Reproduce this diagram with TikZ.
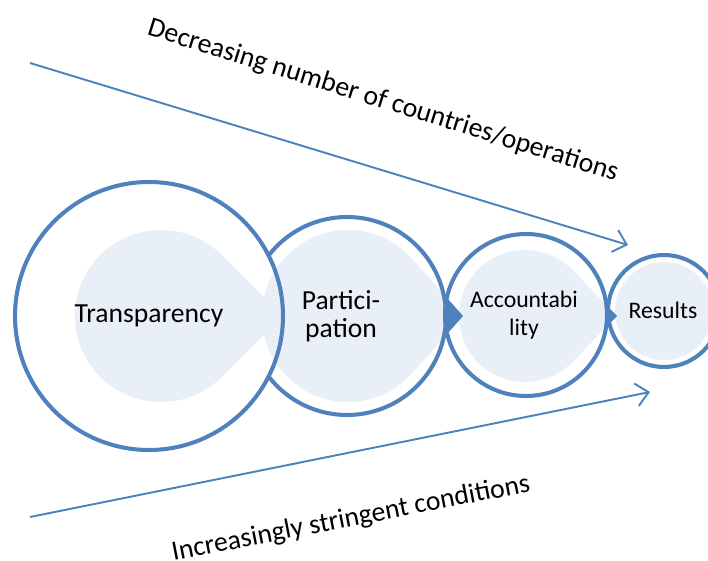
\documentclass[tikz,border=0pt]{standalone}
\usepackage{fontspec}
\setmainfont{Carlito}
\usetikzlibrary{arrows.meta}

\definecolor{ringblue}{HTML}{4F81BD}
\definecolor{discfill}{HTML}{E9EFF7}
\tikzstyle{ring} = [draw=ringblue, line width=2.3pt]
\tikzstyle{disc} = [fill=discfill]
\tikzstyle{stagetext} = [font=\fontsize{15.7}{16}\selectfont, align=center, inner sep=0pt]
\tikzstyle{smalltext} = [font=\fontsize{13.5}{16}\selectfont, align=center, inner sep=0pt]
\tikzstyle{trendtext} = [font=\fontsize{15.8}{17}\selectfont, inner sep=0pt]
\tikzstyle{trend} = [draw=ringblue, line width=1.1pt, -{Straight Barb[length=7pt,width=13pt]}]

% disc with a point to the right: #1 style, #2/#3 centre, #4 radius, #5 x of the point
\newcommand{\teardrop}[5]{%
  \pgfmathsetmacro{\tdang}{acos(#4/(#5-#2))}
  \path[#1] (#5,#3) -- ([shift={(#2,#3)}]\tdang:#4)
    arc[start angle=\tdang, end angle=360-\tdang, radius=#4] -- cycle;
}

\begin{document}
\begin{tikzpicture}[x=0.02cm, y=-0.02cm]
    \useasboundingbox (0,0) rectangle (708,561);
    \clip (0,0) rectangle (708,561);

    % Outer circles
    \fill[white] (664,311) circle[radius=56];
    \fill[white] (526,315) circle[radius=81];
    \fill[white] (347,316) circle[radius=99];
    \fill[white] (149,316) circle[radius=134];

    % Inner discs
    \teardrop{disc}{161}{316}{86}{283}
    \teardrop{disc}{348}{316}{86}{463}
    \teardrop{disc}{525}{316}{66}{617}
    \fill[disc] (664,311) circle[radius=49];

    % Rings
    \draw[ring] (149,316) circle[radius=134];
    \draw[ring] ([shift={(347,316)}]-142.4:99) arc[start angle=-142.4, end angle=142.4, radius=99];
    \draw[ring] (526,315) circle[radius=81];
    \draw[ring] (664,311) circle[radius=56];

    % Points reaching into the next ring
    \begin{scope}
      \clip (444,250) rectangle (470,380);
      \teardrop{fill=ringblue}{348}{316}{86}{463}
    \end{scope}
    \begin{scope}
      \clip (605,270) rectangle (620,360);
      \teardrop{fill=ringblue}{525}{316}{66}{617}
    \end{scope}

    % Stage names
    \node[stagetext] (trans) at (149,316) {Transparency};
    \node[stagetext] (part) at (341,316) {Partici-\\pation};
    \node[smalltext] (acc) at (524,315) {Accountabi\\lity};
    \node[smalltext] (res) at (663,310) {Results};

    % Trend arrows
    \coordinate (decstart) at (30,63);
    \coordinate (decend) at (628,245);
    \coordinate (incstart) at (30,517);
    \coordinate (incend) at (650,392);
    \draw[trend] (decstart) -- (decend);
    \draw[trend] (incstart) -- (incend);
    \node[trendtext, rotate=-17.3] (dec) at (383,101) {Decreasing number of countries/operations};
    \node[trendtext, rotate=11] (inc) at (351,519) {Increasingly stringent conditions};
\end{tikzpicture}
\end{document}
